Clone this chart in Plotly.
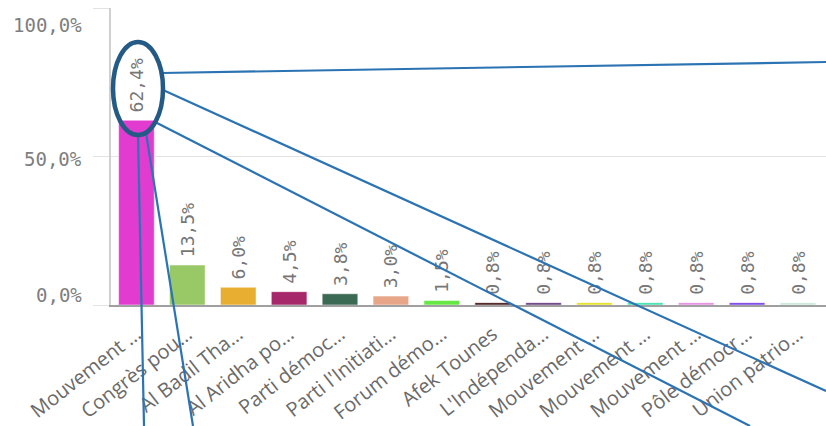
"""
Sloupcový graf výsledků (podíl hlasů) s ručně dokreslenou "lupou"
- elipsa kolem popisku prvního sloupce a z ní vycházející čáry.
"""

import plotly.graph_objects as go

W, H = 826, 426
M_L, M_R, M_T, M_B = 111, 0, 8, 121

parties = [
    "Mouvement …", "Congrès pou…", "Al Badil Tha…", "Al Aridha po…",
    "Parti démoc…", "Parti l'Initiati…", "Forum démo…", "Afek Tounes",
    "L'Indépenda…", "Mouvement …", "Mouvement …", "Mouvement …",
    "Pôle démocr…", "Union patrio…",
]
shares = [62.4, 13.5, 6.0, 4.5, 3.8, 3.0, 1.5, 0.8, 0.8, 0.8, 0.8, 0.8, 0.8, 0.8]
colors = [
    "#e23bd0", "#99c866", "#e8ae32", "#a6286a", "#3b6a54", "#e6a687", "#66e844",
    "#4a1c1c", "#6b3f80", "#e6e022", "#44e0b0", "#e48ee0", "#7a44e6", "#cce8da",
]
y_ticks = [0, 50, 100]
y_tick_labels = ["0,0%", "50,0%", "100,0%"]

# dokreslené čáry "lupy" v pixelech obrázku: (x0, y0, x1, y1)
callout_lines = [
    (162, 73, 826, 62),
    (163, 90, 826, 391),
    (157, 123, 750, 426),
    (138, 135, 144, 426),
    (146, 133, 193, 426),
]
callout_ellipse = (113, 42, 163, 135)  # x0, y0, x1, y1

# Qlik posouvá krajní popisky osy y dovnitř grafu (px, kladné = nahoru)
y_label_shift = {0: 10, 50: -2, 100: -16}


def _px(x, y):
    """Převede pixely obrázku na souřadnice 'paper'."""
    pw = W - M_L - M_R
    ph = H - M_T - M_B
    return (x - M_L) / pw, (H - M_B - y) / ph


idx = list(range(len(parties)))

fig = go.Figure(go.Bar(
    x=idx, y=shares,
    marker=dict(color=colors, line=dict(width=1, color="rgba(255,255,255,0.5)")),
    # malá mezera na začátku = trochu větší odstup popisku od sloupce
    texttemplate="<span style='font-size:8px'>\u00a0</span>%{y:.1f}%",
    textposition="outside", textangle=-90,
    textfont=dict(family="DejaVu Sans Mono", size=18, color="#767676"),
    constraintext="none",
    cliponaxis=False,
))

shapes = []
for x0, y0, x1, y1 in callout_lines:
    a = _px(x0, y0)
    b = _px(x1, y1)
    shapes.append(dict(type="line", xref="paper", yref="paper",
                       x0=a[0], y0=a[1], x1=b[0], y1=b[1],
                       line=dict(color="#2b73b3", width=2.2)))
ex0, ey0, ex1, ey1 = callout_ellipse
a = _px(ex0, ey0)
b = _px(ex1, ey1)
shapes.append(dict(type="circle", xref="paper", yref="paper",
                   x0=a[0], y0=b[1], x1=b[0], y1=a[1],
                   line=dict(color="#245a86", width=4.5)))

# popisky osy y jako anotace, aby šly posunout každý zvlášť
annotations = []
for val, txt in zip(y_ticks, y_tick_labels):
    annotations.append(dict(
        x=0, xref="paper", y=val, yref="y", text=txt, showarrow=False,
        xanchor="right", yanchor="middle", xshift=-27, yshift=y_label_shift[val],
        font=dict(family="DejaVu Sans Mono", size=19, color="#7e7e7e"),
    ))

fig.update_layout(
    width=W, height=H,
    margin=dict(l=M_L, r=M_R, t=M_T, b=M_B, pad=0),
    plot_bgcolor="white", paper_bgcolor="white",
    separators=", ",
    bargap=0.3,
    showlegend=False,
    shapes=shapes,
    annotations=annotations,
    xaxis=dict(
        tickmode="array", tickvals=idx, ticktext=parties, tickangle=-38,
        range=[-0.5, 13.55], automargin=False, ticklabeloverflow="allow",
        ticklabelstandoff=8,
        tickfont=dict(family="Open Sans", size=20, color="#6a6a6a"),
        showline=True, linecolor="#a0a0a0", linewidth=1.5,
        showgrid=False, ticks="",
    ),
    yaxis=dict(
        range=[0, 100.3], automargin=False,
        tickmode="array", tickvals=y_ticks, showticklabels=False,
        showgrid=True, gridcolor="#e3e3e3", gridwidth=1.2,
        ticks="outside", ticklen=16, tickcolor="#e3e3e3",
        showline=True, linecolor="#d0d0d0", linewidth=1.5,
        zeroline=False,
    ),
)

# prohlížeč dává <body> vlastní okraj 8 px - zrušit, ať graf sedí na pixel
fig.write_html("out.html", config={"displayModeBar": False},
               post_script="document.body.style.margin='0';")
